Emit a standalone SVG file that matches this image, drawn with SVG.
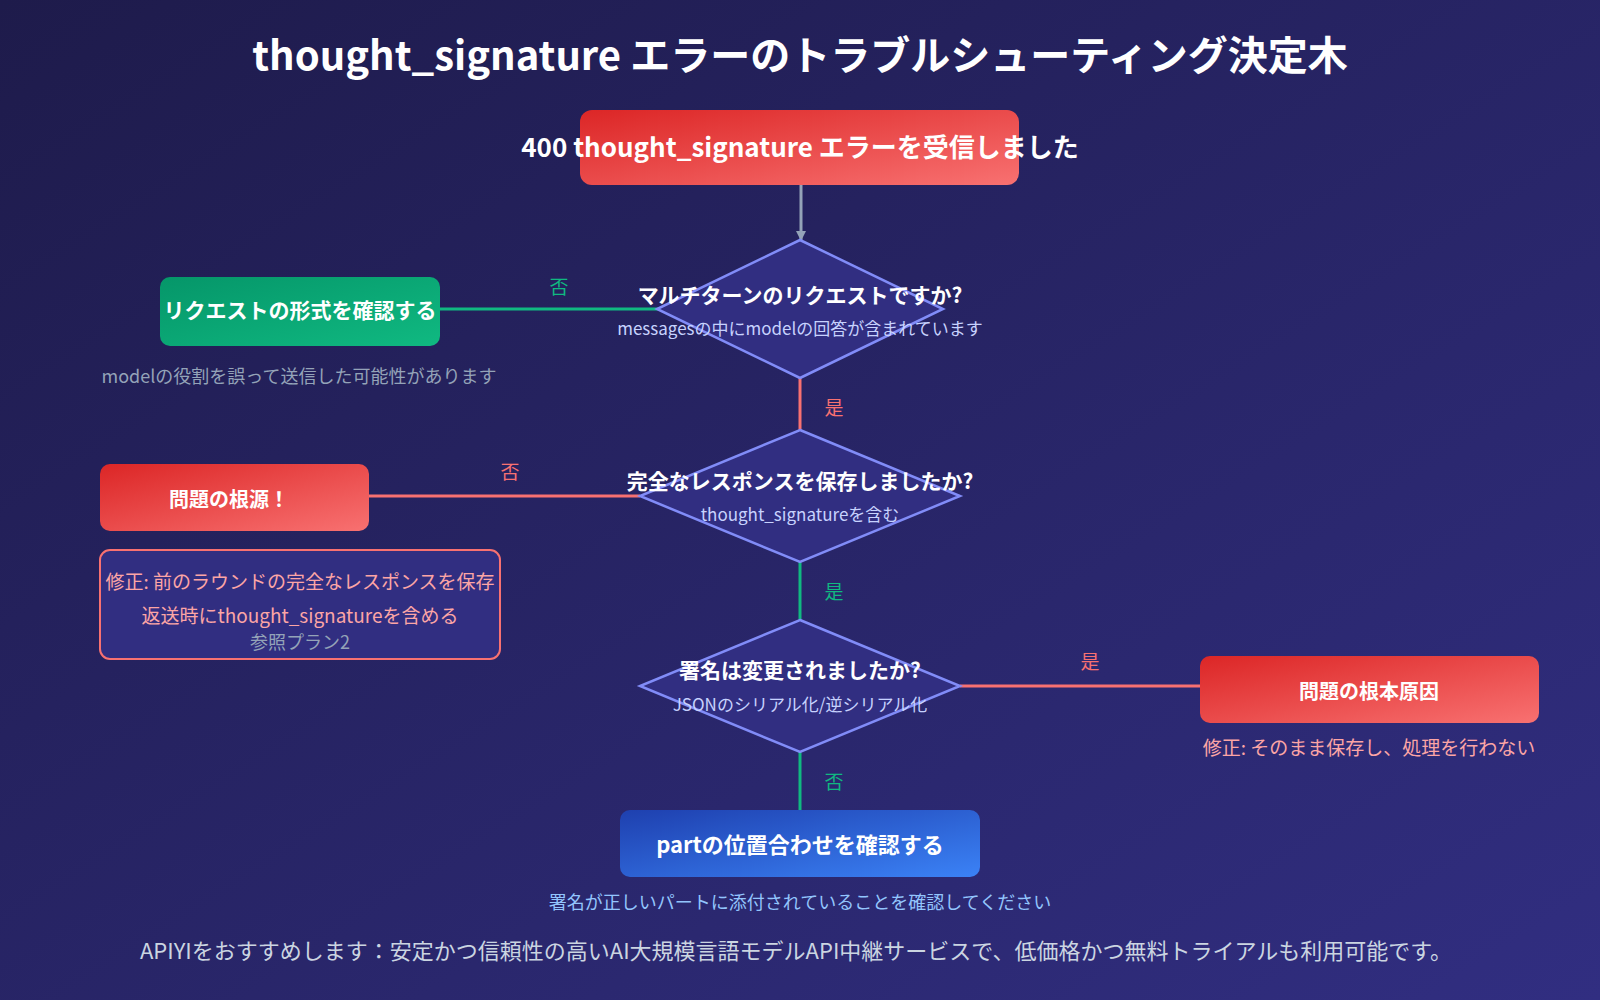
<svg xmlns="http://www.w3.org/2000/svg" width="1600" height="1000" viewBox="0 0 1600 1000">
<defs>
<linearGradient id="bg" x1="0" y1="0" x2="1" y2="1"><stop offset="0" stop-color="#1e1b4b"/><stop offset="1" stop-color="#312e81"/></linearGradient>
<linearGradient id="red" x1="0" y1="0" x2="1" y2="1"><stop offset="0" stop-color="#dc2626"/><stop offset="1" stop-color="#f87171"/></linearGradient>
<linearGradient id="green" x1="0" y1="0" x2="1" y2="1"><stop offset="0" stop-color="#059669"/><stop offset="1" stop-color="#10b981"/></linearGradient>
<linearGradient id="blue" x1="0" y1="0" x2="1" y2="1"><stop offset="0" stop-color="#1e40af"/><stop offset="1" stop-color="#3b82f6"/></linearGradient>
<marker id="arr" markerWidth="10" markerHeight="10" refX="9" refY="5" orient="auto" markerUnits="userSpaceOnUse"><path d="M0,0 L10,5 L0,10 z" fill="#94a3b8"/></marker>
</defs>
<style>
text{font-family:"Noto Sans CJK JP","Noto Sans",sans-serif;text-anchor:middle}
.t{fill:#fff;font-weight:bold}
.d{fill:#312e81;stroke:#818cf8;stroke-width:2.5}
.sub{fill:#c7d2fe;font-size:17px}
.gray{fill:#94a3b8;font-size:18px}
.fix{fill:#fca5a5;font-size:19px}
.lg{fill:#10b981;font-size:19px}
.lr{fill:#f87171;font-size:19px}
</style>
<rect width="1600" height="1000" fill="url(#bg)"/>
<text x="800" y="70" class="t" font-size="40">thought_signature エラーのトラブルシューティング決定木</text>
<g id="connectors" fill="none" stroke-width="3">
<line x1="801" y1="185" x2="801" y2="240" stroke="#94a3b8" marker-end="url(#arr)"/>
<line x1="440" y1="309" x2="661" y2="309" stroke="#10b981"/>
<line x1="800" y1="378" x2="800" y2="430" stroke="#f87171"/>
<line x1="369" y1="496" x2="640" y2="496" stroke="#f87171"/>
<line x1="800" y1="562" x2="800" y2="620" stroke="#10b981"/>
<line x1="960" y1="686" x2="1200" y2="686" stroke="#f87171"/>
<line x1="800" y1="752" x2="800" y2="810" stroke="#10b981"/>
<text x="559" y="294" class="lg" stroke="none">否</text>
<text x="834" y="415" class="lr" stroke="none">是</text>
<text x="510" y="479" class="lr" stroke="none">否</text>
<text x="834" y="599" class="lg" stroke="none">是</text>
<text x="1090" y="669" class="lr" stroke="none">是</text>
<text x="834" y="789" class="lg" stroke="none">否</text>
</g>
<g id="start"><rect x="580" y="110" width="439" height="75" rx="12" fill="url(#red)"/><text x="800" y="157" class="t" font-size="26">400 thought_signature エラーを受信しました</text></g>
<g id="q1"><polygon points="800,240 943,309 800,378 657,309" class="d"/><text x="800" y="303" class="t" font-size="21">マルチターンのリクエストですか?</text><text x="800" y="335" class="sub">messagesの中にmodelの回答が含まれています</text></g>
<g id="checkformat"><rect x="160" y="277" width="280" height="69" rx="10" fill="url(#green)"/><text x="300" y="318" class="t" font-size="21">リクエストの形式を確認する</text><text x="299" y="383" class="gray">modelの役割を誤って送信した可能性があります</text></g>
<g id="q2"><polygon points="800,430 960,496 800,562 640,496" class="d"/><text x="800" y="489" class="t" font-size="21">完全なレスポンスを保存しましたか?</text><text x="800" y="521" class="sub">thought_signatureを含む</text></g>
<g id="root"><rect x="100" y="464" width="269" height="67" rx="10" fill="url(#red)"/><text x="229" y="507" class="t" font-size="20">問題の根源！</text></g>
<g id="fix1"><rect x="100" y="550" width="400" height="109" rx="10" fill="#312e81" stroke="#f87171" stroke-width="2"/><text x="300" y="589" class="fix">修正: 前のラウンドの完全なレスポンスを保存</text><text x="300" y="623" class="fix">返送時にthought_signatureを含める</text><text x="300" y="649" class="gray" font-size="16">参照プラン2</text></g>
<g id="q3"><polygon points="800,620 960,686 800,752 640,686" class="d"/><text x="800" y="678" class="t" font-size="21">署名は変更されましたか?</text><text x="800" y="711" class="sub">JSONのシリアル化/逆シリアル化</text></g>
<g id="rootcause"><rect x="1200" y="656" width="339" height="67" rx="10" fill="url(#red)"/><text x="1369" y="699" class="t" font-size="20">問題の根本原因</text><text x="1369" y="755" class="fix">修正: そのまま保存し、処理を行わない</text></g>
<g id="checkpart"><rect x="620" y="810" width="360" height="67" rx="10" fill="url(#blue)"/><text x="800" y="853" class="t" font-size="22">partの位置合わせを確認する</text><text x="800" y="909" fill="#93c5fd" font-size="18">署名が正しいパートに添付されていることを確認してください</text></g>
<text x="796" y="959" fill="#cbd5e1" font-size="22">APIYIをおすすめします：安定かつ信頼性の高いAI大規模言語モデルAPI中継サービスで、低価格かつ無料トライアルも利用可能です。</text>
</svg>
